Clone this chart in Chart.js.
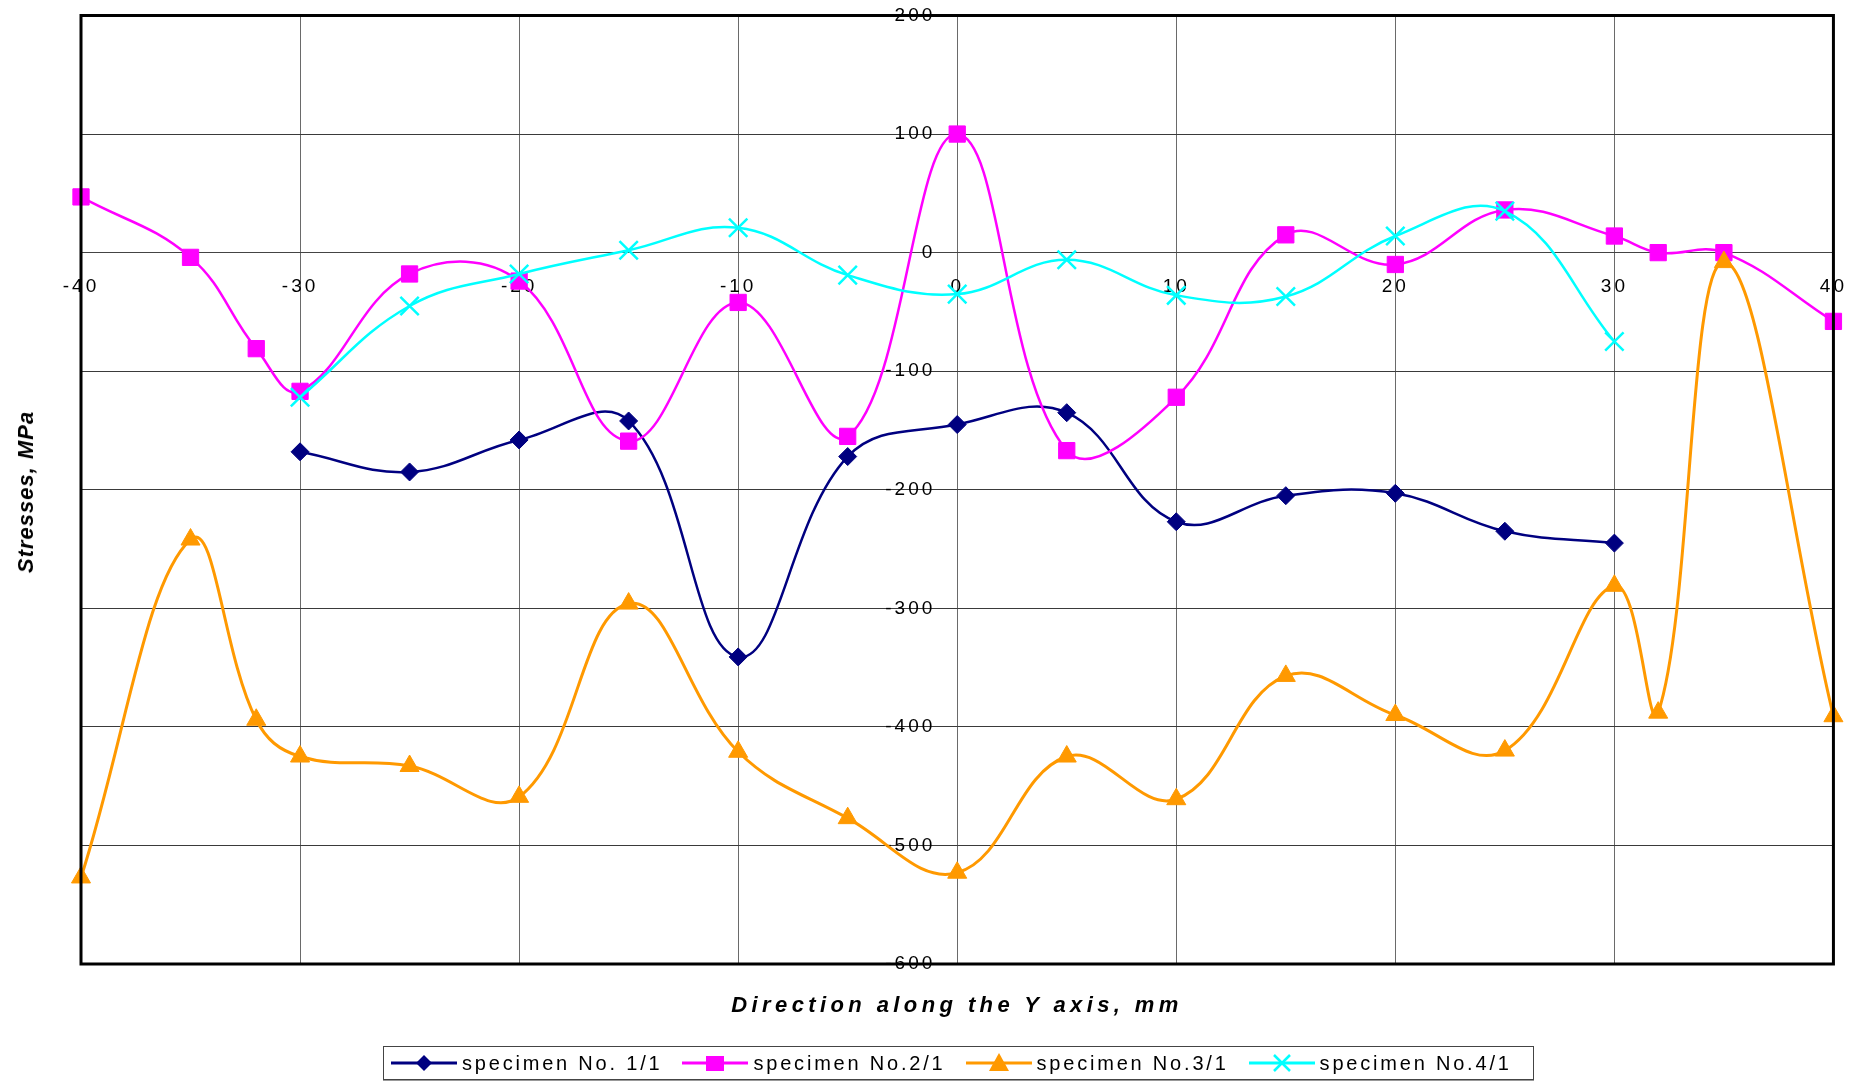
<!DOCTYPE html>
<html>
<head>
<meta charset="utf-8">
<script src="https://cdn.jsdelivr.net/npm/chart.js@4"></script>
<style>
  html, body { margin: 0; padding: 0; background: #fff; }
  #wrap { position: relative; width: 1861px; height: 1083px; overflow: hidden; }
  #c { position: absolute; left: 0; top: 0; }
  .ytitle { position: absolute; left: 26px; top: 492px; transform: translate(-50%, -50%) rotate(-90deg);
    font: italic bold 22px "Liberation Sans", Arial, sans-serif; letter-spacing: 1px; white-space: nowrap; color: #000; }
  .xtitle { position: absolute; left: 957px; top: 994px; transform: translateX(-50%);
    font: italic bold 22px/22px "Liberation Sans", Arial, sans-serif; letter-spacing: 4.4px; white-space: nowrap; color: #000; }
  #legend { position: absolute; left: 383px; top: 1046px; width: 1151px; height: 34px; box-sizing: border-box;
    border: 1px solid #444; box-shadow: 0 1px 0 #999; display: flex; align-items: center; padding-left: 7px; background: #fff; }
  .item { display: flex; align-items: center; margin-right: 20px; }
  .item span { font: 20px "Liberation Sans", Arial, sans-serif; letter-spacing: 2.8px; margin-left: 5px; white-space: nowrap; color: #000; }
</style>
</head>
<body>
<div id="wrap">
  <canvas id="c" width="1861" height="1083"></canvas>
  <div class="ytitle">Stresses, MPa</div>
  <div class="xtitle">Direction along the Y axis, mm</div>
  <div id="legend"></div>
</div>
<script>
// ---- data ----
const xPositionsA = [-30, -25, -20, -15, -10, -5, 0, 5, 10, 15, 20, 25, 30];
const xPositionsB = [-40, -35, -32, -30, -25, -20, -15, -10, -5, 0, 5, 10, 15, 20, 25, 30, 32, 35, 40];
const specimen1 = [-168, -185, -158, -142, -341, -172, -145, -135, -227, -205, -203, -235, -245];
const specimen2 = [47, -4, -81, -117, -18, -24, -159, -42, -155, 100, -167, -122, 15, -10, 36, 14, 0, 0, -58];
const specimen3 = [-527, -242, -394, -425, -433, -459, -296, -421, -477, -523, -425, -461, -357, -390, -420, -281, -388, -8, -391];
const specimen4 = [-122, -45, -18, 2, 21, -19, -35, -6, -36, -37, 14, 35, -75];
const seriesNames = ['specimen No. 1/1', 'specimen No.2/1', 'specimen No.3/1', 'specimen No.4/1'];
const xTickValues = [-40, -30, -20, -10, 0, 10, 20, 30, 40];
const yTickValues = [200, 100, 0, -100, -200, -300, -400, -500, -600];

function pts(xs, ys) { return xs.map((x, i) => ({x: x, y: ys[i]})); }

const styles = [
  {color: '#000080', style: 'rectRot', r: 9, lw: 2.5},
  {color: '#FF00FF', style: 'rect', r: 11.5, lw: 2.5},
  {color: '#FF9900', style: 'triangle', r: 11, lw: 3},
  {color: '#00FFFF', style: 'crossRot', r: 13, lw: 2.5}
];
const seriesData = [pts(xPositionsA, specimen1), pts(xPositionsB, specimen2), pts(xPositionsB, specimen3), pts(xPositionsA, specimen4)];

const datasets = seriesData.map((d, i) => ({
  label: seriesNames[i],
  data: d,
  borderColor: styles[i].color,
  backgroundColor: styles[i].color,
  borderWidth: styles[i].lw,
  pointStyle: styles[i].style,
  pointRadius: styles[i].r,
  pointHoverRadius: styles[i].r,
  pointBorderWidth: styles[i].style === 'crossRot' ? 2.5 : 1,
  pointBorderColor: styles[i].color,
  pointBackgroundColor: styles[i].color,
  tension: 0.4,
  fill: false,
  clip: false,
  order: 4 - i
}));

const frame = {
  id: 'frame',
  beforeDraw(chart) { chart.ctx.letterSpacing = '3px'; },
  afterDraw(chart) {
    const {ctx, chartArea: a} = chart;
    ctx.save();
    ctx.strokeStyle = '#000';
    ctx.lineWidth = 3;
    ctx.strokeRect(a.left, a.top, a.right - a.left, a.bottom - a.top);
    ctx.restore();
  }
};

new Chart(document.getElementById('c'), {
  type: 'line',
  data: {datasets},
  options: {
    responsive: false,
    animation: false,
    events: [],
    layout: {padding: {left: 81, right: 26.5, top: 15.5, bottom: 119}},
    plugins: {legend: {display: false}, tooltip: {enabled: false}},
    scales: {
      x: {
        type: 'linear', position: {y: 0}, min: -40, max: 40,
        afterBuildTicks(s) { s.ticks = xTickValues.map(v => ({value: v})); },
        grid: {color: '#6a6a6a', lineWidth: 1, tickLength: 6, tickColor: '#6a6a6a'},
        border: {display: true, color: '#444', width: 1},
        ticks: {color: '#000', font: {family: 'Liberation Sans', size: 19}, padding: 17, maxRotation: 0, autoSkip: false}
      },
      y: {
        type: 'linear', position: {x: -1}, min: -600, max: 200,
        afterBuildTicks(s) { s.ticks = yTickValues.map(v => ({value: v})); },
        grid: {color: '#3a3a3a', lineWidth: 1, tickLength: 0, drawTicks: false},
        border: {display: false},
        ticks: {color: '#000', font: {family: 'Liberation Sans', size: 19}, padding: 0, autoSkip: false}
      }
    }
  },
  plugins: [frame]
});

// ---- HTML legend ----
function markerSvg(i) {
  const c = styles[i].color;
  let m = '';
  if (i === 0) m = `<polygon points="33,3 41,11 33,19 25,11" fill="${c}"/>`;
  if (i === 1) m = `<rect x="24" y="4" width="18" height="15" fill="${c}"/>`;
  if (i === 2) m = `<polygon points="33,1 43,19 23,19" fill="${c}"/>`;
  if (i === 3) m = `<path d="M25,3 L41,19 M41,3 L25,19" stroke="${c}" stroke-width="2.5"/>`;
  return `<svg width="66" height="22" viewBox="0 0 66 22"><line x1="0" y1="11" x2="66" y2="11" stroke="${c}" stroke-width="3"/>${m}</svg>`;
}
const lg = document.getElementById('legend');
seriesNames.forEach((n, i) => {
  const d = document.createElement('div');
  d.className = 'item';
  d.innerHTML = markerSvg(i) + `<span>${n}</span>`;
  lg.appendChild(d);
});
</script>
</body>
</html>
